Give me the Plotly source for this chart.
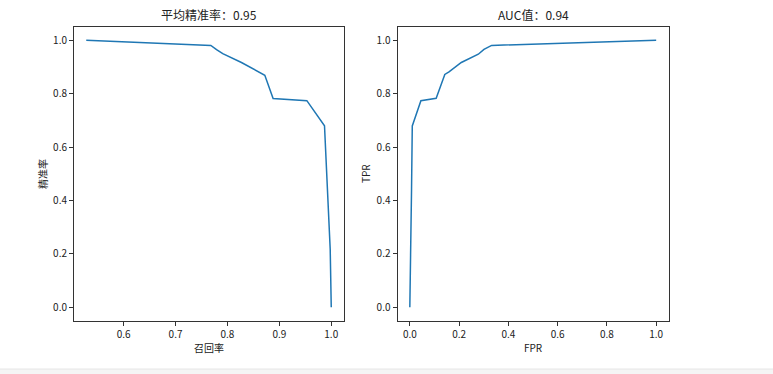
import plotly.graph_objects as go

# ---- data ----
recall = [0.528, 0.768, 0.779, 0.791, 0.827, 0.861, 0.872, 0.888, 0.953, 0.987, 0.998, 1.0]
precision = [1.0, 0.981, 0.965, 0.95, 0.917, 0.882, 0.869, 0.782, 0.774, 0.680, 0.216, 0.0]

fpr = [0.0, 0.002, 0.007, 0.010, 0.045, 0.107, 0.142, 0.159, 0.209, 0.278, 0.301, 0.332, 1.0]
tpr = [0.0, 0.216, 0.44, 0.679, 0.774, 0.783, 0.872, 0.882, 0.917, 0.948, 0.966, 0.981, 1.0]

left_ticks_x = [0.6, 0.7, 0.8, 0.9, 1.0]
right_ticks_x = [0.0, 0.2, 0.4, 0.6, 0.8, 1.0]
ticks_y = [0.0, 0.2, 0.4, 0.6, 0.8, 1.0]

title_left = "平均精准率：0.95"
title_right = "AUC值：0.94"
xlabel_left = "召回率"
ylabel_left = "精准率"
xlabel_right = "FPR"
ylabel_right = "TPR"

W, H = 773, 374
FONT = "Noto Sans CJK SC, DejaVu Sans, sans-serif"
LINE = "#1f77b4"

def px(x):
    return x / W

def py(y):
    return 1 - y / H

fig = go.Figure()
fig.add_trace(go.Scatter(x=recall, y=precision, mode="lines",
                         line=dict(color=LINE, width=1.5), xaxis="x", yaxis="y",
                         showlegend=False, hoverinfo="skip"))
fig.add_trace(go.Scatter(x=fpr, y=tpr, mode="lines",
                         line=dict(color=LINE, width=1.5), xaxis="x2", yaxis="y2",
                         showlegend=False, hoverinfo="skip"))

top, bottom = 27, 320.5
axis_common = dict(showgrid=False, zeroline=False, showline=True, mirror=True,
                   linecolor="#333333", linewidth=1, ticks="outside", ticklen=4,
                   tickcolor="#333333", tickwidth=1,
                   tickfont=dict(family=FONT, size=10, color="#222222"))

fig.update_layout(
    width=W, height=H, margin=dict(l=0, r=0, t=0, b=0),
    paper_bgcolor="white", plot_bgcolor="white",
    xaxis=dict(domain=[px(74), px(343.5)], range=[0.5044, 1.0236],
               tickvals=left_ticks_x, tickformat=".1f", anchor="y", **axis_common),
    yaxis=dict(domain=[py(bottom), py(top)], range=[-0.05, 1.05],
               tickvals=ticks_y, tickformat=".1f", anchor="x", **axis_common),
    xaxis2=dict(domain=[px(397.5), px(668.5)], range=[-0.05, 1.05],
                tickvals=right_ticks_x, tickformat=".1f", anchor="y2", **axis_common),
    yaxis2=dict(domain=[py(bottom), py(top)], range=[-0.05, 1.05],
                tickvals=ticks_y, tickformat=".1f", anchor="x2", **axis_common),
)

def ann(text, x, y, size, angle=0):
    fig.add_annotation(text=text, x=px(x), y=py(y), xref="paper", yref="paper",
                       showarrow=False, xanchor="center", yanchor="middle",
                       textangle=angle, font=dict(family=FONT, size=size, color="#222222"))

ann(title_left, 208.5, 14, 12)
ann(title_right, 533, 14, 12)
ann(xlabel_left, 208.5, 347, 10)
ann(xlabel_right, 533, 347, 10)
ann(ylabel_left, 42, 174, 10, -90)
ann(ylabel_right, 365, 174, 10, -90)

# notebook output bottom band
fig.add_shape(type="rect", xref="paper", yref="paper", x0=0, x1=1, y0=0, y1=py(369),
              fillcolor="#f5f5f5", line=dict(width=0), layer="below")
fig.add_shape(type="line", xref="paper", yref="paper", x0=0, x1=1, y0=py(369), y1=py(369),
              line=dict(color="#e6e6e6", width=1))

fig.write_html("out.html", config={"displayModeBar": False},
               post_script="document.body.style.margin='0';document.body.style.overflow='hidden';")
